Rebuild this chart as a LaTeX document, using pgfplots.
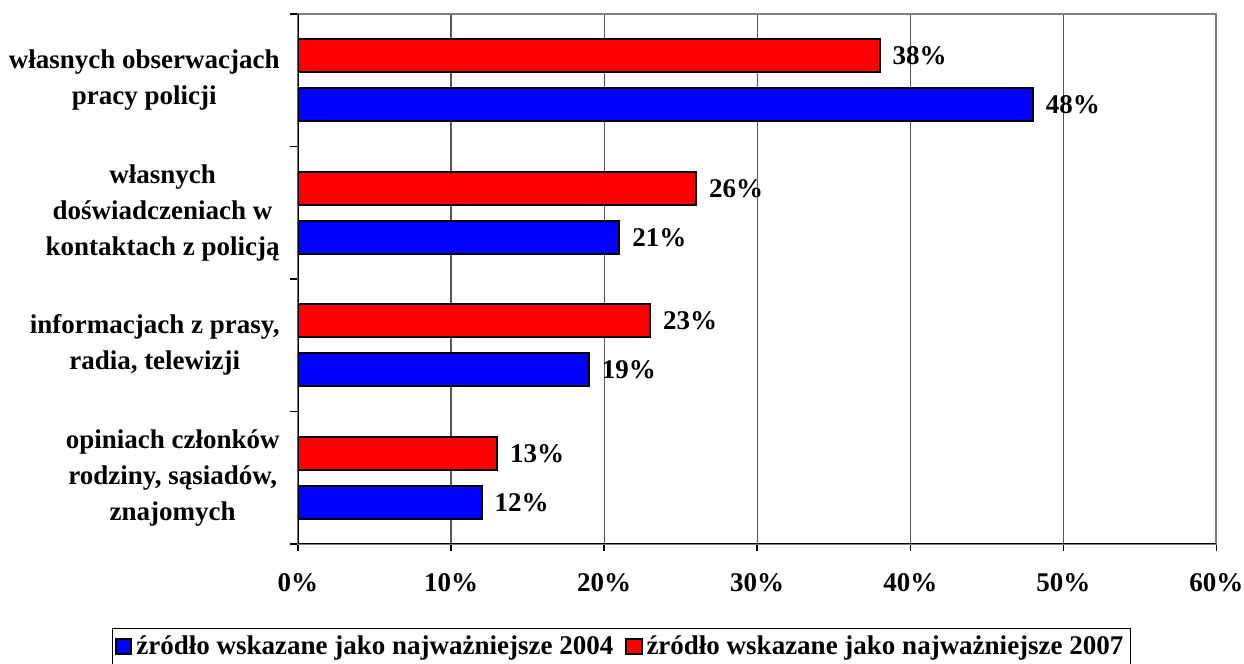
\documentclass[border=0pt]{standalone}
\usepackage{fontspec}
\setmainfont{Liberation Serif}
\usepackage{pgfplots}
\pgfplotsset{compat=1.18}
\begin{document}
\fontsize{13.5}{18}\selectfont\bfseries
\begin{tikzpicture}
\useasboundingbox (0,0) rectangle (622pt,332pt);
\begin{axis}[
  at={(149pt,60pt)}, anchor=south west,
  scale only axis, width=459.25pt, height=265pt,
  xbar, bar width=0.25,
  xmin=0, xmax=60, ymin=-0.5, ymax=3.5,
  xtick={0,10,...,60},
  xticklabels={0\%,10\%,20\%,30\%,40\%,50\%,60\%},
  xtick pos=bottom,
  ytick={0,1,2,3},
  yticklabels={{opiniach członków\\rodziny, sąsiadów,\\znajomych},
               {informacjach z prasy,\\radia, telewizji},
               {własnych\\doświadczeniach w\\kontaktach z policją},
               {własnych obserwacjach\\pracy policji}},
  yticklabel style={align=center, xshift=-1pt},
  xticklabel style={yshift=-6.5pt},
  minor ytick={-0.5,0.5,1.5,2.5,3.5},
  ytick pos=left,
  tick align=outside,
  major tick length=3.5pt, minor tick length=4pt,
  every major y tick/.append style={draw=none},
  every tick/.append style={black, line width=0.8pt},
  xmajorgrids, grid style={black!65, line width=0.6pt},
  axis line style={draw=gray, line width=1pt},
  nodes near coords={\pgfmathprintnumber{\pgfplotspointmeta}\%},
  /pgf/number format/assume math mode=true,
  nodes near coords style={anchor=west, xshift=1.5pt, black},
  legend style={at={(0.352,-0.158)}, anchor=north, legend columns=2,
    draw=black, line width=0.6pt, inner sep=1.5pt,
    /tikz/every even column/.append style={column sep=4pt}},
  legend image code/.code={\draw[#1, line width=1pt] (0pt,-3.8pt) rectangle (7.6pt,3.8pt);},
]
\addplot+[bar shift=-0.185, fill={rgb,255:red,0;green,0;blue,255}, draw=black, line width=1pt]
  coordinates {(12,0) (19,1) (21,2) (48,3)};
\addlegendentry{źródło wskazane jako najważniejsze 2004}
\addplot+[bar shift=0.185, fill={rgb,255:red,255;green,0;blue,0}, draw=black, line width=1pt]
  coordinates {(13,0) (23,1) (26,2) (38,3)};
\addlegendentry{źródło wskazane jako najważniejsze 2007}
\draw[black, line width=1pt] (rel axis cs:0,1) -- (rel axis cs:0,0) -- (rel axis cs:1,0);
\end{axis}
\end{tikzpicture}
\end{document}
